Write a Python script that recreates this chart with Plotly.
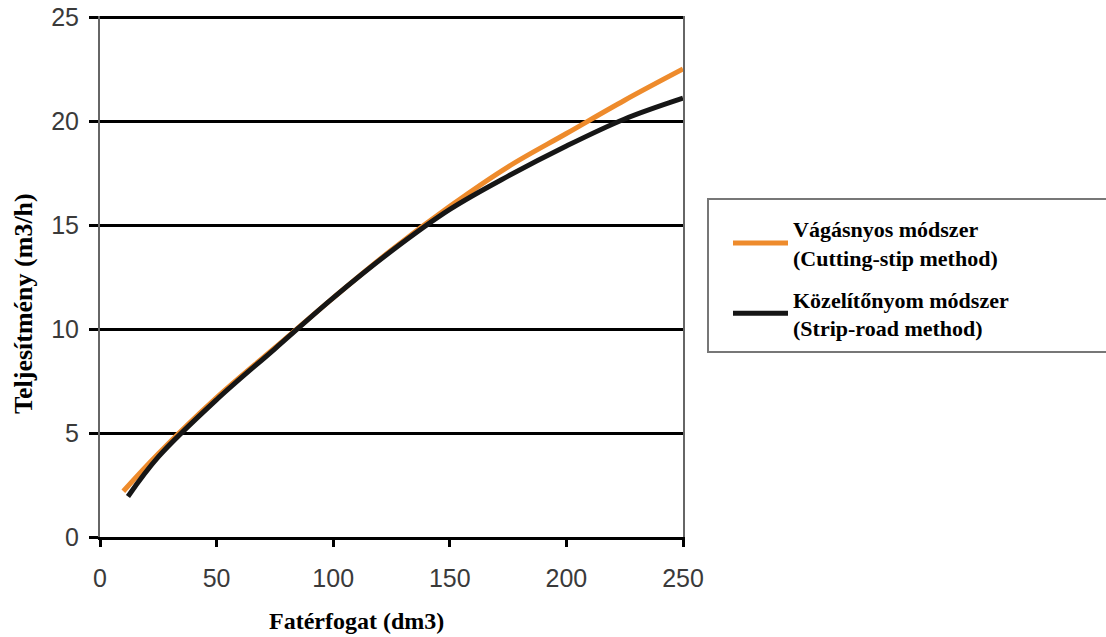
import plotly.graph_objects as go

# Data
x_cut = [10, 25, 50, 75, 100, 125, 150, 175, 200, 225, 250]
y_cut = [2.2, 4.0, 6.7, 9.1, 11.5, 13.8, 15.9, 17.8, 19.4, 21.0, 22.5]

x_strip = [12, 25, 50, 75, 100, 125, 150, 175, 200, 225, 250]
y_strip = [1.95, 3.85, 6.6, 9.05, 11.5, 13.75, 15.75, 17.35, 18.8, 20.1, 21.1]

name_cut = "<b>Vágásnyos módszer<br>(Cutting-stip method)</b>"
name_strip = "<b>Közelítőnyom módszer<br>(Strip-road method)</b>"

x_title = "<b>Fatérfogat (dm3)</b>"
y_title = "<b>Teljesítmény (m3/h)</b>"

x_ticks = [0, 50, 100, 150, 200, 250]
y_ticks = [0, 5, 10, 15, 20, 25]

fig = go.Figure()
fig.add_trace(go.Scatter(x=x_cut, y=y_cut, mode="lines", name=name_cut, legendgroup="a",
                         line=dict(color="#EE8B2C", width=5, shape="spline")))
fig.add_trace(go.Scatter(x=x_strip, y=y_strip, mode="lines", name=name_strip, legendgroup="b",
                         line=dict(color="#161616", width=5, shape="spline")))

# plot area spans x 100..683, y 16..537
fig.update_layout(
    width=1106, height=637,
    margin=dict(l=100, r=423, t=16, b=100, autoexpand=False),
    paper_bgcolor="white", plot_bgcolor="white",
    showlegend=True,
    legend=dict(
        x=(728 - 100) / 583, y=(537 - 208) / 521, xanchor="left", yanchor="top",
        borderwidth=0, bgcolor="rgba(0,0,0,0)",
        font=dict(family="Liberation Serif", size=22, color="black"),
        itemwidth=55,
        tracegroupgap=10,
    ),
    xaxis=dict(
        range=[0, 250], tickvals=x_ticks, showgrid=False, zeroline=False,
        showline=True, linecolor="black", linewidth=3, automargin=False,
        ticks="outside", ticklen=7, tickwidth=3, tickcolor="black",
        tickfont=dict(family="Liberation Sans", size=25, color="#3a3a3a"),
        ticklabelstandoff=10, ticklabeloverflow="allow",
    ),
    yaxis=dict(
        range=[0, 25.05], tickvals=y_ticks, showgrid=True, gridcolor="black", gridwidth=3,
        zeroline=False, showline=True, linecolor="#666666", linewidth=2, mirror=True,
        automargin=False,
        ticks="outside", ticklen=9, tickwidth=3, tickcolor="black",
        tickfont=dict(family="Liberation Sans", size=25, color="#3a3a3a"),
        ticklabelstandoff=5, ticklabeloverflow="allow",
    ),
    shapes=[
        dict(type="rect", xref="paper", yref="paper",
             x0=(708 - 100) / 583, x1=(1140 - 100) / 583,
             y0=(537 - 352) / 521, y1=(537 - 199) / 521,
             line=dict(color="#777777", width=2), fillcolor="rgba(0,0,0,0)"),
    ],
    annotations=[
        dict(text=x_title, xref="paper", yref="paper", x=(356 - 100) / 583, y=-84 / 521,
             xanchor="center", yanchor="middle", showarrow=False,
             font=dict(family="Liberation Serif", size=24, color="black")),
        dict(text=y_title, xref="paper", yref="paper", x=-77 / 583, y=(537 - 304) / 521,
             xanchor="center", yanchor="middle", showarrow=False, textangle=-90,
             font=dict(family="Liberation Serif", size=26, color="black")),
    ],
)

fig.write_html("out.html", config={"displayModeBar": False},
               post_script="document.body.style.margin='0';")
